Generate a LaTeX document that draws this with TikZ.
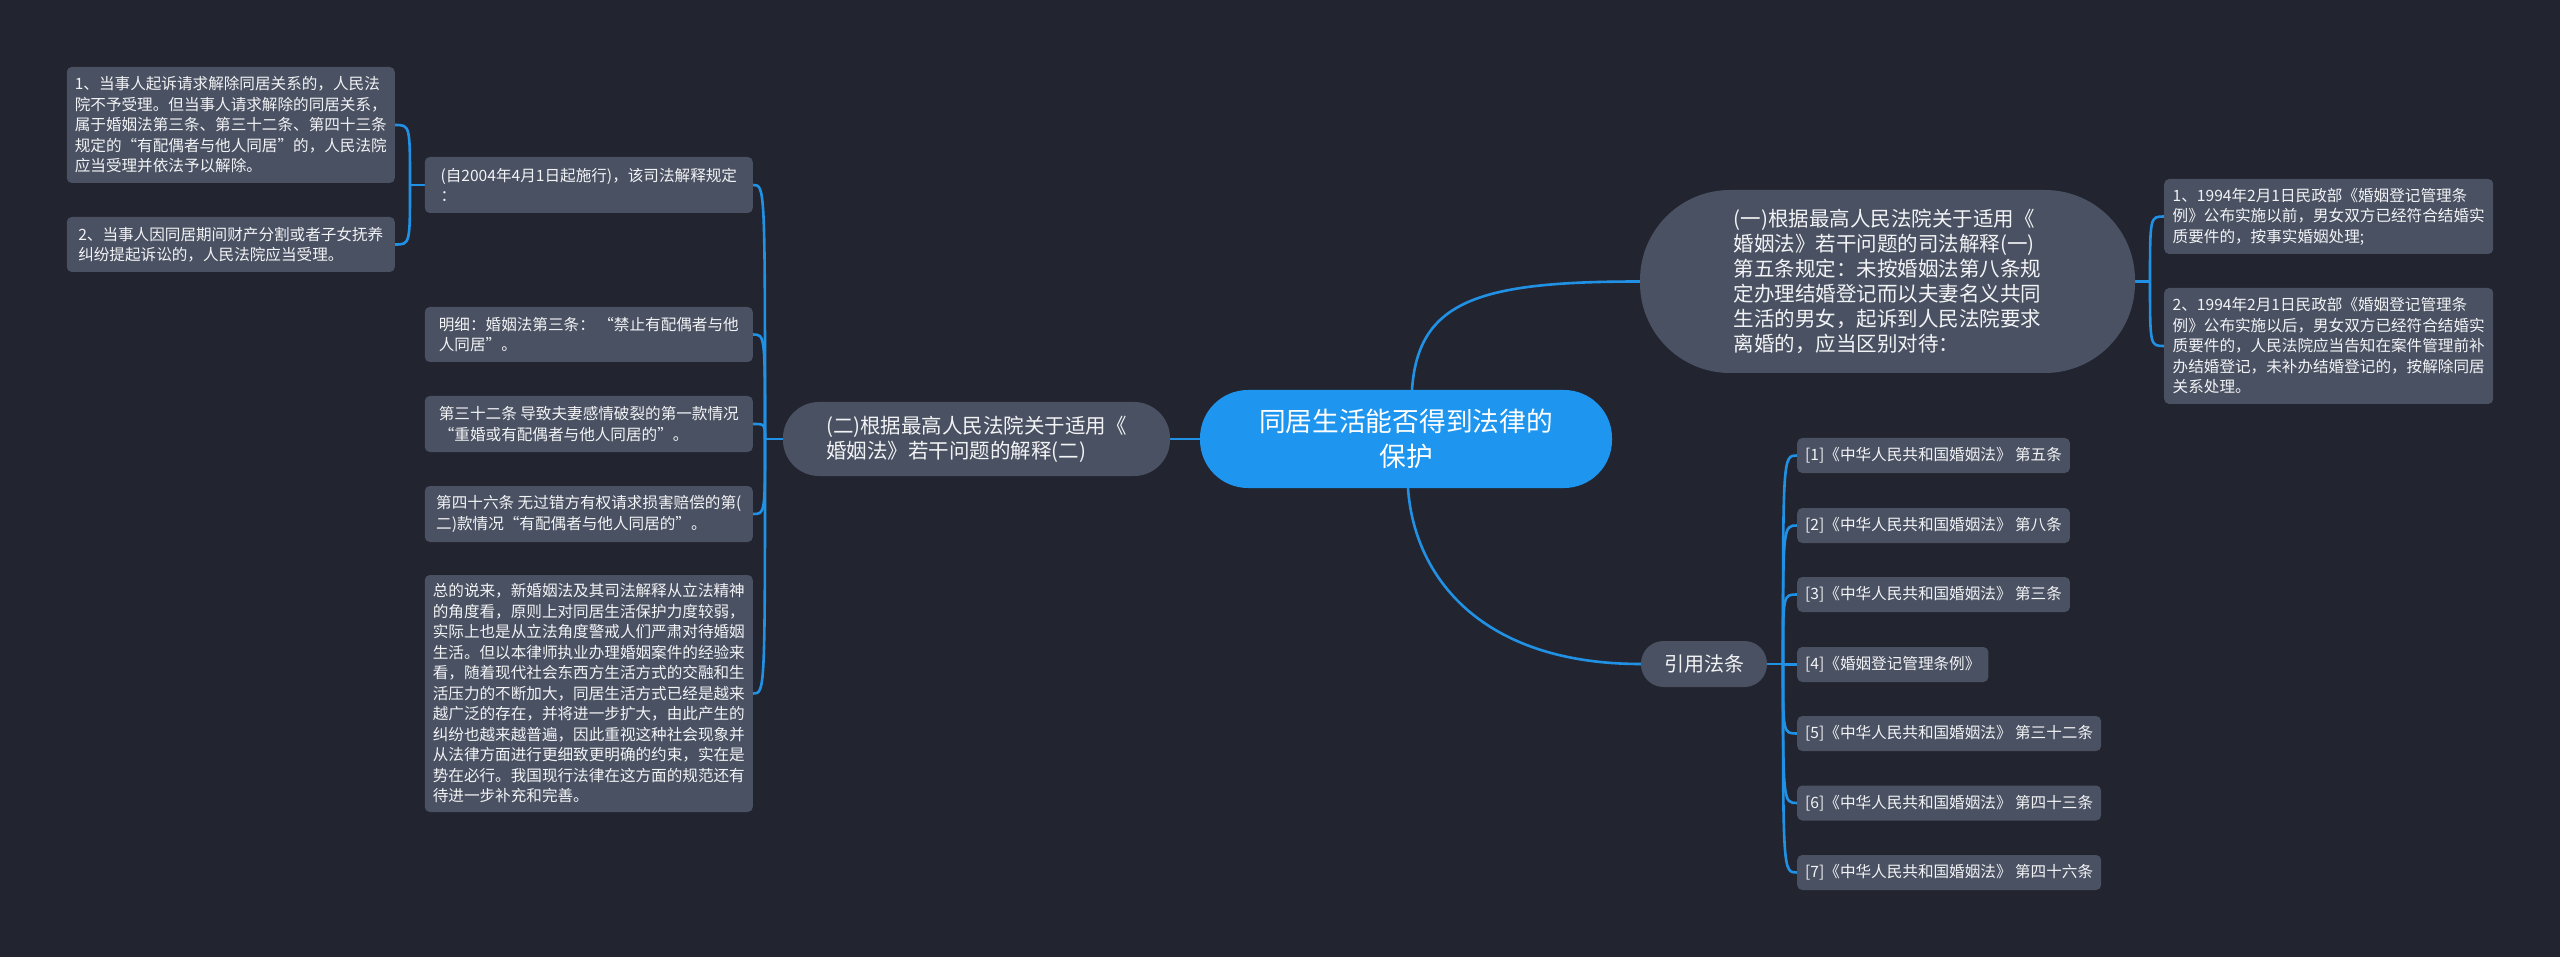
\documentclass[tikz,border=0pt]{standalone}
\usepackage{fontspec}
\newfontfamily\cjk{Noto Sans CJK SC}
\usetikzlibrary{calc}
\definecolor{bgc}{HTML}{22252F}
\definecolor{ndc}{HTML}{4A5162}
\definecolor{ctc}{HTML}{1E96EF}
\definecolor{lnc}{HTML}{2191E6}
\definecolor{txc}{HTML}{F2F3F5}
\pgfdeclarelayer{bg}
\pgfsetlayers{bg,main}
\begin{document}
\begin{tikzpicture}[x=1pt,y=-1pt,
  box/.style={fill=ndc,text=txc,rounded corners=5pt,inner xsep=8pt,inner ysep=0pt,align=left,
    font=\cjk\fontsize{15.6pt}{20.5pt}\selectfont},
  lvone/.style={fill=ndc,text=txc,inner sep=0pt,align=left,
    font=\cjk\fontsize{20.5pt}{25pt}\selectfont},
  ctr/.style={fill=ctc,text=white,inner sep=0pt,align=center,
    font=\cjk\fontsize{26.7pt}{35pt}\selectfont},
  conn/.style={draw=lnc,line width=2.6pt}]
\useasboundingbox (0,0) rectangle (2560,957);

% central
\node[ctr,minimum width=412pt,minimum height=98pt,rounded corners=48pt] (c) at (1406,439) {同居生活能否得到法律的\\保护};

% level one
\node[lvone,minimum width=387pt,minimum height=74pt,rounded corners=36pt] (b2) at (976.5,439)
  {(二)根据最高人民法院关于适用《\\婚姻法》若干问题的解释(二)};
\node[lvone,minimum width=495pt,minimum height=183pt,rounded corners=90pt] (b1) at (1887.5,281.5)
  {(一)根据最高人民法院关于适用《\\婚姻法》若干问题的司法解释(一)\\第五条规定：未按婚姻法第八条规\\定办理结婚登记而以夫妻名义共同\\生活的男女，起诉到人民法院要求\\离婚的，应当区别对待：};
\node[lvone,align=center,minimum width=126pt,minimum height=46pt,rounded corners=22.5pt,
  font=\cjk\fontsize{20pt}{24pt}\selectfont] (y) at (1704,664) {引用法条};

% right children of b1
\node[box,anchor=west,minimum width=329pt,minimum height=75pt] (a1) at (2164,216.5)
  {1、1994年2月1日民政部《婚姻登记管理条\\例》公布实施以前，男女双方已经符合结婚实\\质要件的，按事实婚姻处理;};
\node[box,anchor=west,minimum width=329pt,minimum height=116pt] (a2) at (2164,346)
  {2、1994年2月1日民政部《婚姻登记管理条\\例》公布实施以后，男女双方已经符合结婚实\\质要件的，人民法院应当告知在案件管理前补\\办结婚登记，未补办结婚登记的，按解除同居\\关系处理。};

% law references
\node[box,anchor=west,minimum height=35pt] (r1) at (1797,455.5) {[1]《中华人民共和国婚姻法》 第五条};
\node[box,anchor=west,minimum height=35pt] (r2) at (1797,525.5) {[2]《中华人民共和国婚姻法》 第八条};
\node[box,anchor=west,minimum height=35pt] (r3) at (1797,594.5) {[3]《中华人民共和国婚姻法》 第三条};
\node[box,anchor=west,minimum height=35pt] (r4) at (1797,664.5) {[4]《婚姻登记管理条例》};
\node[box,anchor=west,minimum height=35pt] (r5) at (1797,733.5) {[5]《中华人民共和国婚姻法》 第三十二条};
\node[box,anchor=west,minimum height=35pt] (r6) at (1797,803) {[6]《中华人民共和国婚姻法》 第四十三条};
\node[box,anchor=west,minimum height=35pt] (r7) at (1797,872.5) {[7]《中华人民共和国婚姻法》 第四十六条};

% left children of b2
\node[box,anchor=east,minimum width=328pt,minimum height=56pt] (s1) at (753,185)
  {(自2004年4月1日起施行)，该司法解释规定\\：};
\node[box,anchor=east,minimum width=328pt,minimum height=55pt] (s2) at (753,334.5)
  {明细：婚姻法第三条：\ “禁止有配偶者与他\\人同居”。};
\node[box,anchor=east,minimum width=328pt,minimum height=56pt] (s3) at (753,424)
  {第三十二条 导致夫妻感情破裂的第一款情况\\“重婚或有配偶者与他人同居的”。};
\node[box,anchor=east,minimum width=328pt,minimum height=56pt] (s4) at (753,514)
  {第四十六条 无过错方有权请求损害赔偿的第(\\二)款情况“有配偶者与他人同居的”。};
\node[box,anchor=east,minimum width=328pt,minimum height=237pt] (s5) at (753,693.5)
  {总的说来，新婚姻法及其司法解释从立法精神\\的角度看，原则上对同居生活保护力度较弱，\\实际上也是从立法角度警戒人们严肃对待婚姻\\生活。但以本律师执业办理婚姻案件的经验来\\看，随着现代社会东西方生活方式的交融和生\\活压力的不断加大，同居生活方式已经是越来\\越广泛的存在，并将进一步扩大，由此产生的\\纠纷也越来越普遍，因此重视这种社会现象并\\从法律方面进行更细致更明确的约束，实在是\\势在必行。我国现行法律在这方面的规范还有\\待进一步补充和完善。};

% top-left children of s1
\node[box,anchor=east,minimum width=328pt,minimum height=116pt] (t1) at (395,125)
  {1、当事人起诉请求解除同居关系的，人民法\\院不予受理。但当事人请求解除的同居关系，\\属于婚姻法第三条、第三十二条、第四十三条\\规定的“有配偶者与他人同居”的，人民法院\\应当受理并依法予以解除。};
\node[box,anchor=east,minimum width=328pt,minimum height=55pt] (t2) at (395,244.5)
  {2、当事人因同居期间财产分割或者子女抚养\\纠纷提起诉讼的，人民法院应当受理。};

% junctions
\coordinate (jb2) at (765,439);
\coordinate (jb1) at (2150,281.5);
\coordinate (jy) at (1783,664);
\coordinate (js1) at (410,185);

\begin{pgfonlayer}{bg}
\fill[bgc] (0,0) rectangle (2560,957);
\draw[conn] (c.west) -- (b2.east);
\draw[conn] ([xshift=6pt]c.north) .. controls (1418,300) and (1480,281.5) .. (b1.west);
\draw[conn] ([xshift=2pt]c.south) .. controls (1414,576) and (1480,664) .. (y.west);

\draw[conn] (b2.west) -- (jb2);
\foreach \n in {s1,s2,s3,s4,s5}
  \draw[conn] (jb2) .. controls (jb2 |- \n.east) and (jb2 |- \n.east) .. (\n.east);

\draw[conn] (b1.east) -- (jb1);
\foreach \n in {a1,a2}
  \draw[conn] (jb1) .. controls (jb1 |- \n.west) and (jb1 |- \n.west) .. (\n.west);

\draw[conn] (y.east) -- (jy);
\foreach \n in {r1,r2,r3,r4,r5,r6,r7}
  \draw[conn] (jy) .. controls (jy |- \n.west) and (jy |- \n.west) .. (\n.west);

\draw[conn] (s1.west) -- (js1);
\foreach \n in {t1,t2}
  \draw[conn] (js1) .. controls (js1 |- \n.east) and (js1 |- \n.east) .. (\n.east);
\end{pgfonlayer}
\end{tikzpicture}
\end{document}
